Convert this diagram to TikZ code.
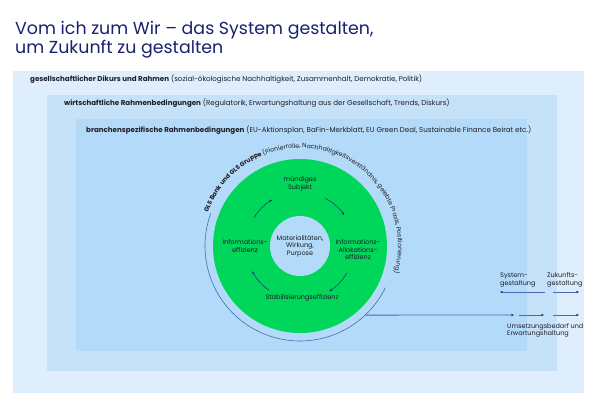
\documentclass[tikz,border=0pt]{standalone}
\usepackage{fontspec}
\setmainfont{Poppins}
\usetikzlibrary{arrows.meta,decorations.text}
\definecolor{titel}{RGB}{27,32,110}
\definecolor{aussen}{RGB}{223,238,252}
\definecolor{mittel}{RGB}{197,226,249}
\definecolor{innen}{RGB}{179,218,249}
\definecolor{gruen}{RGB}{0,214,90}
\definecolor{linie}{RGB}{74,106,184}
\definecolor{pfeil}{RGB}{28,42,122}
\definecolor{schrift}{RGB}{30,30,40}

\begin{document}
\begin{tikzpicture}[x=1pt,y=1pt,
  klein/.style={font=\fontsize{6.5}{7.5}\selectfont, text=schrift, inner sep=0pt},
  rahmen/.style={klein, font=\fontsize{7.1}{8}\selectfont},
  ring/.style={klein, align=center},
  zyklus/.style={pfeil, line width=0.5pt, -{Stealth[length=3pt,width=2.4pt]}},
  band/.style={linie, line width=0.8pt, -{Stealth[length=3pt,width=2.4pt,color=pfeil]}}]
\useasboundingbox (0,0) rectangle (599,411);
% Titel
\node[anchor=north west, align=left, text=titel, inner sep=0pt,
  font=\fontsize{17.4}{17}\selectfont] (titel) at (15,390)
  {Vom ich zum Wir – das System gestalten,\\um Zukunft zu gestalten};
% Rahmen
\fill[aussen] (13,18) rectangle (584,340);
\fill[mittel] (47,40) rectangle (557,316);
\fill[innen] (76,60) rectangle (527,292);
\node[rahmen, anchor=west] (gesell) at (30,332) {\textbf{gesellschaftlicher Dikurs und Rahmen} (sozial-ökologische Nachhaltigkeit, Zusammenhalt, Demokratie, Politik)};
\node[rahmen, anchor=west] (wirtsch) at (64,308) {\textbf{wirtschaftliche Rahmenbedingungen} (Regulatorik, Erwartungshaltung aus der Gesellschaft, Trends, Diskurs)};
\node[rahmen, anchor=west] (branche) at (86,281) {\textbf{branchenspezifische Rahmenbedingungen} (EU-Aktionsplan, BaFin-Merkblatt, EU Green Deal, Sustainable Finance Beirat etc.)};
% Kreis
\coordinate (zentrum) at (300,165);
\fill[gruen] (zentrum) circle (87);
\fill[innen] (zentrum) circle (30);
\draw[linie, line width=0.6pt] (zentrum) ++(160:95) arc[start angle=160, end angle=334, radius=95];
\path[decorate, decoration={text along path, text color=schrift,
  text={|\fontsize{6.2}{7}\selectfont\bfseries|GLS Bank und GLS Gruppe |\fontsize{6.2}{7}\selectfont\mdseries|(Pionierrolle, Nachhaltigkeitsverständnis, gelebte Praxis, Positionierung)}}]
  (zentrum) ++(160:98) arc[start angle=160, end angle=-40, radius=98];
% Zyklus
\node[ring] (subjekt) at (300,227) {mündiges\\Subjekt};
\node[ring] (allok) at (358,161) {Informations-\\Allokations-\\effizienz};
\node[ring] (stabil) at (302,113) {Stabilisierungseffizienz};
\node[ring] (info) at (245,165) {Informations-\\effizienz};
\node[ring] (kern) at (300,165) {Materialitäten,\\Wirkung,\\Purpose};
\draw[zyklus] (zentrum) ++(62:54) arc[start angle=62, end angle=35, radius=54];
\draw[zyklus] (zentrum) ++(-30:54) arc[start angle=-30, end angle=-57, radius=54];
\draw[zyklus] (zentrum) ++(235:54) arc[start angle=235, end angle=208, radius=54];
\draw[zyklus] (zentrum) ++(148:54) arc[start angle=148, end angle=121, radius=54];
% Umsetzung
\path (zentrum) ++(-46.7:95) coordinate (abzweig);
\coordinate (u1) at (514,96);
\coordinate (u2a) at (519,96);
\coordinate (u2) at (544,96);
\coordinate (u3a) at (553,96);
\coordinate (u3) at (579,96);
\draw[band] (abzweig) -- (u1);
\draw[band] (u2a) -- (u2);
\draw[band] (u3a) -- (u3);
\node[klein, anchor=north west, align=left] (umsetz) at (507,88) {Umsetzungsbedarf und\\Erwartungshaltung};
% Gestaltung
\node[klein, anchor=south west, align=left] (system) at (500,124) {System-\\gestaltung};
\node[klein, anchor=south west, align=left] (zukunft) at (547,124) {Zukunfts-\\gestaltung};
\coordinate (s1) at (545,119);
\coordinate (s2) at (500,119);
\coordinate (z1) at (553,119);
\coordinate (z2) at (579,119);
\draw[band] (s1) -- (s2);
\draw[band] (z1) -- (z2);
\end{tikzpicture}
\end{document}
